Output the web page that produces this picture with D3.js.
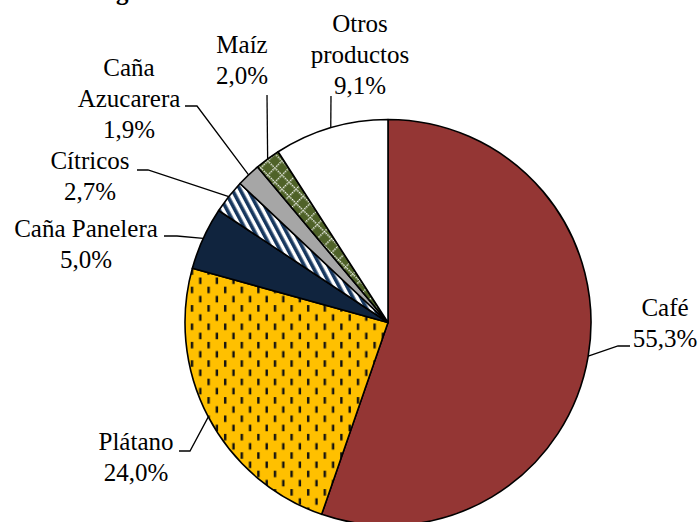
<!DOCTYPE html>
<html>
<head>
<meta charset="utf-8">
<script src="https://cdn.jsdelivr.net/npm/d3@7"></script>
<style>
  body { margin: 0; background: #fff; }
  svg { display: block; }
  text { font-family: "Liberation Serif", "DejaVu Serif", serif; }
</style>
</head>
<body>
<div id="chart"></div>
<script>
// ---------------------------------------------------------------------------
// DATA
// ---------------------------------------------------------------------------
const categories = ["Café", "Plátano", "Caña Panelera", "Cítricos", "Caña Azucarera", "Maíz", "Otros productos"];
const shares = [55.3, 24.0, 5.0, 2.7, 1.9, 2.0, 9.1];
// how each label is broken over lines (name lines, the percentage is added below)
const labelLines = [["Café"], ["Plátano"], ["Caña Panelera"], ["Cítricos"], ["Caña", "Azucarera"], ["Maíz"], ["Otros", "productos"]];

// ---------------------------------------------------------------------------
// LAYOUT
// ---------------------------------------------------------------------------
const width = 700, height = 522;
const cx = 388, cy = 322.5, radius = 203;
const fontSize = 25, lineGap = 31;

// label block: centre x, first baseline y; leader: elbow point + end point at the text
const labelLayout = [
  { x: 665, y: 316, elbow: [618, 346], end: [630, 346] },
  { x: 136, y: 450, elbow: [190, 451], end: [179, 451] },
  { x: 86,  y: 237, elbow: [177, 236], end: [164, 236] },
  { x: 90,  y: 169, elbow: [148, 170], end: [137, 170] },
  { x: 129, y: 76,  elbow: [197, 106], end: [185, 106] },
  { x: 242, y: 53,  elbow: [267, 95],  end: [267, 95] },
  { x: 360, y: 32,  elbow: [331, 96],  end: [331, 96] }
];

const fmt = v => v.toFixed(1).replace(".", ",") + "%";

const svg = d3.select("#chart").append("svg")
  .attr("width", width)
  .attr("height", height);

// ---------------------------------------------------------------------------
// PATTERNS
// ---------------------------------------------------------------------------
const defs = svg.append("defs");

// yellow with short dark dashes (Plátano)
const pDash = defs.append("pattern")
  .attr("id", "pat-platano")
  .attr("patternUnits", "userSpaceOnUse")
  .attr("width", 16.6).attr("height", 18.4);
pDash.append("rect").attr("width", 16.6).attr("height", 18.4).attr("fill", "#FFC000");
[[2, 1], [10.3, 10.2]].forEach(([x, y]) => {
  pDash.append("rect").attr("x", x).attr("y", y).attr("width", 2.4).attr("height", 6.5).attr("fill", "#111");
});

// white with wide navy diagonal stripes (Cítricos)
const pStripe = defs.append("pattern")
  .attr("id", "pat-citricos")
  .attr("patternUnits", "userSpaceOnUse")
  .attr("width", 7).attr("height", 7)
  .attr("patternTransform", "rotate(-28)");
pStripe.append("rect").attr("width", 7).attr("height", 7).attr("fill", "#fff");
pStripe.append("rect").attr("width", 3.6).attr("height", 7).attr("fill", "#17375E");

// olive with white dotted diamond lattice (Maíz)
const pDiamond = defs.append("pattern")
  .attr("id", "pat-maiz")
  .attr("patternUnits", "userSpaceOnUse")
  .attr("width", 10).attr("height", 10)
  .attr("patternTransform", "rotate(45)");
pDiamond.append("rect").attr("width", 10).attr("height", 10).attr("fill", "#4F6228");
for (let i = 0; i < 10; i += 2.5) {
  pDiamond.append("rect").attr("x", i).attr("y", 0).attr("width", 1.4).attr("height", 1.4).attr("fill", "#fff");
  pDiamond.append("rect").attr("x", 0).attr("y", i).attr("width", 1.4).attr("height", 1.4).attr("fill", "#fff");
}

const fills = ["#943634", "url(#pat-platano)", "#10243E", "url(#pat-citricos)", "#A6A6A6", "url(#pat-maiz)", "#ffffff"];

// ---------------------------------------------------------------------------
// PIE
// ---------------------------------------------------------------------------
const pie = d3.pie().sort(null).value(d => d);
const arcs = pie(shares);

const arc = d3.arc().innerRadius(0).outerRadius(radius);

const g = svg.append("g").attr("transform", `translate(${cx},${cy})`);

g.selectAll("path.slice")
  .data(arcs)
  .enter()
  .append("path")
  .attr("class", "slice")
  .attr("d", arc)
  .attr("fill", (d, i) => fills[i])
  .attr("stroke", "#000")
  .attr("stroke-width", 1.6)
  .attr("stroke-linejoin", "round");

// ---------------------------------------------------------------------------
// LEADERS & LABELS
// ---------------------------------------------------------------------------
arcs.forEach((d, i) => {
  const mid = (d.startAngle + d.endAngle) / 2;
  const ex = cx + radius * Math.sin(mid);
  const ey = cy - radius * Math.cos(mid);
  const L = labelLayout[i];

  svg.append("path")
    .attr("d", d3.line()([[ex, ey], L.elbow, L.end]))
    .attr("fill", "none")
    .attr("stroke", "#000")
    .attr("stroke-width", 1.3);

  const lines = labelLines[i].concat([fmt(shares[i])]);
  const txt = svg.append("text")
    .attr("x", L.x)
    .attr("y", L.y)
    .attr("text-anchor", "middle")
    .attr("font-family", "Liberation Serif, DejaVu Serif, serif")
    .attr("font-size", fontSize)
    .attr("fill", "#000");
  lines.forEach((s, k) => {
    txt.append("tspan").attr("x", L.x).attr("dy", k === 0 ? 0 : lineGap).text(s);
  });
});

// title cut at the top edge of the picture
svg.append("text")
  .attr("x", 116)
  .attr("y", -0.5)
  .attr("font-family", "Liberation Serif, DejaVu Serif, serif")
  .attr("font-size", 25)
  .attr("font-weight", "bold")
  .text("g");
</script>
</body>
</html>
